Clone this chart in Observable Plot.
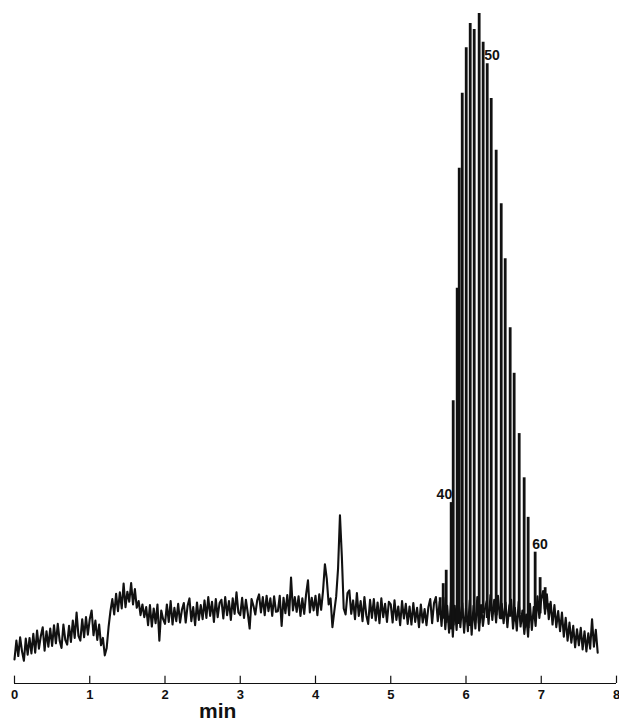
<!DOCTYPE html>
<html>
<head>
<meta charset="utf-8">
<script src="https://cdn.jsdelivr.net/npm/d3@7"></script>
<script src="https://cdn.jsdelivr.net/npm/@observablehq/plot@0.6"></script>
<style>
  html, body { margin: 0; padding: 0; background: #fff; }
  #chart svg { display: block; }
</style>
</head>
<body>
<div id="chart"></div>
<script>
// Detector trace, one reading every 0.025 min (relative signal units)
const sampleStep = 0.025;
const detectorSignal = [
  3.6, 6.4, 4.1, 6.9, 4.8, 3.4, 6.7, 4.3, 6.8, 4.5,
  7.4, 4.6, 7.9, 5.2, 7.1, 8.4, 4.9, 7.8, 5.5, 8.2,
  5.6, 8.7, 6.0, 8.9, 6.4, 5.3, 8.8, 6.5, 5.8, 8.6,
  6.2, 9.4, 6.8, 10.6, 7.1, 6.4, 9.6, 6.9, 9.9, 7.3,
  9.6, 10.9, 7.2, 9.4, 6.5, 8.8, 5.7, 6.8, 4.2, 5.3,
  8.4, 10.8, 12.6, 10.3, 13.4, 10.8, 13.6, 11.2, 14.9, 11.4,
  13.7, 12.2, 15.0, 11.8, 14.1, 11.3, 12.3, 10.2, 11.8, 9.9,
  11.4, 8.7, 11.7, 8.5, 11.2, 9.0, 11.8, 6.4, 10.9, 9.6,
  8.9, 11.8, 9.2, 12.3, 8.8, 11.3, 9.3, 11.9, 9.1, 11.0,
  12.0, 9.1, 11.6, 12.7, 9.3, 11.4, 8.7, 12.1, 9.5, 11.7,
  9.6, 12.4, 9.8, 12.9, 10.1, 12.2, 9.2, 12.6, 9.9, 12.0,
  12.5, 9.7, 12.9, 10.2, 12.3, 9.5, 12.7, 10.4, 13.6, 10.6,
  10.2, 12.8, 9.8, 12.5, 10.5, 8.2, 12.6, 11.6, 10.3, 12.4,
  13.3, 10.6, 12.9, 10.2, 13.1, 10.8, 12.7, 10.1, 13.0, 10.7,
  10.8, 13.1, 8.6, 12.8, 10.5, 13.2, 10.2, 15.8, 10.9, 12.9,
  10.7, 13.0, 10.1, 12.7, 10.4, 13.3, 15.4, 10.6, 12.8, 10.9,
  13.1, 10.2, 13.3, 11.0, 13.8, 17.8, 15.6, 11.8, 12.7, 8.4,
  10.8, 13.0, 17.2, 25.1, 19.0, 11.2, 10.3, 13.5, 13.9, 10.4,
  12.4, 9.6, 13.5, 10.1, 12.3, 9.3, 12.9, 10.2, 8.9, 12.5,
  9.8, 12.6, 9.4, 12.1, 9.0, 12.7, 9.9, 11.9, 9.2, 12.2,
  11.8, 9.1, 12.4, 9.5, 11.5, 8.7, 12.3, 9.7, 11.9, 8.9,
  11.5, 8.8, 12.0, 9.2, 11.3, 8.4, 11.8, 9.1, 11.1, 8.7,
  11.4, 12.6, 9.0, 12.0, 12.9, 9.3, 12.2, 8.6, 12.8, 8.1,
  11.6, 7.6, 12.1, 7.0, 11.6, 8.0, 12.7, 8.4, 12.0, 7.6,
  11.3, 7.8, 12.4, 7.3, 11.6, 8.2, 12.9, 7.9, 11.7, 8.6,
  11.0, 12.3, 8.9, 13.2, 9.5, 12.5, 9.1, 13.1, 9.8, 11.9,
  9.0, 12.1, 8.4, 11.6, 12.5, 8.2, 11.3, 7.9, 12.2, 8.5,
  10.9, 7.4, 10.3, 7.0, 11.9, 8.0, 11.4, 8.6, 13.0, 9.8,
  12.6, 13.8, 10.4, 13.3, 9.6, 12.2, 8.8, 11.7, 8.4, 10.8,
  7.8, 10.6, 7.0, 9.8, 6.4, 9.1, 6.1, 8.6, 5.4, 8.1,
  5.7, 8.3, 5.1, 7.8, 4.8, 7.5, 5.2, 9.6, 5.5, 8.0,
  4.6
];

// Oligomer peaks: degree of polymerisation, retention time (min),
// apex signal and the signal of the valley the peak rises from
const peakDP = [37, 38, 39, 40, 41, 42, 43, 44, 45, 46, 47, 48, 49, 50,
                51, 52, 53, 54, 55, 56, 57, 58, 59, 60, 61, 62, 63];
const peakTime = [5.657, 5.697, 5.737, 5.803, 5.830, 5.883, 5.910, 5.950, 6.003,
                  6.056, 6.109, 6.175, 6.228, 6.282, 6.335, 6.401, 6.468, 6.521,
                  6.587, 6.640, 6.707, 6.773, 6.826, 6.919, 6.985, 7.052, 7.105];
const peakHeight = [12.8, 14.9, 16.9, 27.0, 42.2, 59.0, 76.9, 88.1, 94.9, 98.5,
                    97.6, 100.0, 95.7, 92.5, 87.3, 79.6, 71.6, 63.4, 53.1, 46.3,
                    37.3, 30.7, 24.8, 19.6, 15.8, 14.3, 11.9];
const peakBase = [10.2, 9.6, 9.0, 8.0, 8.6, 9.4, 8.8, 9.8, 9.1, 8.5, 9.6, 8.9, 10.4,
                  9.7, 10.8, 10.1, 9.5, 10.6, 9.9, 9.2, 10.3, 8.9, 8.2, 9.6, 10.4,
                  11.0, 10.6];

// Peaks that carry their chain length as a label
const labelledDP = [40, 50, 60];

// Time axis
const timeTicks = [0, 1, 2, 3, 4, 5, 6, 7, 8];
const timeLabel = "min";

const trace = detectorSignal.map((signal, i) => ({time: i * sampleStep, signal}));
const peaks = peakDP.map((dp, i) => ({
  dp, time: peakTime[i], height: peakHeight[i], base: peakBase[i]
}));
const labelled = peaks.filter(p => labelledDP.includes(p.dp));
const ink = "#111";

const chart = Plot.plot({
  width: 619,
  height: 720,
  marginLeft: 14,
  marginRight: 3,
  marginTop: 13,
  marginBottom: 37,
  style: {
    background: "#fff",
    fontFamily: "'Liberation Sans', Arial, sans-serif",
    color: ink
  },
  x: {domain: [0, 8]},
  y: {domain: [0, 100], axis: null},
  marks: [
    // baseline trace
    Plot.line(trace, {x: "time", y: "signal", stroke: ink, strokeWidth: 2.1}),
    // oligomer peaks
    Plot.ruleX(peaks, {x: "time", y1: "base", y2: "height", stroke: ink, strokeWidth: 2.8}),
    // peak numbers
    Plot.text(labelled.filter(p => p.dp === 40), {
      x: "time", y: "height", text: d => String(d.dp),
      textAnchor: "end", dx: 1, dy: -8,
      fontSize: 14, fontWeight: "bold", fill: ink
    }),
    Plot.text(labelled.filter(p => p.dp !== 40), {
      x: "time", y: "height", text: d => String(d.dp),
      textAnchor: "start", dx: -3, dy: -8,
      fontSize: 14, fontWeight: "bold", fill: ink
    }),
    // time axis: line, inward ticks, labels
    Plot.ruleY([0], {stroke: ink, strokeWidth: 1.2}),
    Plot.ruleX(timeTicks, {x: d => d, y1: 0, y2: 1.1, stroke: ink, strokeWidth: 1.2}),
    Plot.axisX(timeTicks, {
      tickSize: 0, tickPadding: 6, fontSize: 13, fontWeight: "bold",
      tickFormat: d => String(d), label: null
    }),
    Plot.text([timeLabel], {
      x: 2.7, frameAnchor: "bottom", dy: 34, lineAnchor: "bottom", text: d => d,
      fontSize: 21, fontWeight: "bold", letterSpacing: 0.5, fill: ink
    })
  ]
});

document.getElementById("chart").appendChild(chart);
</script>
</body>
</html>
